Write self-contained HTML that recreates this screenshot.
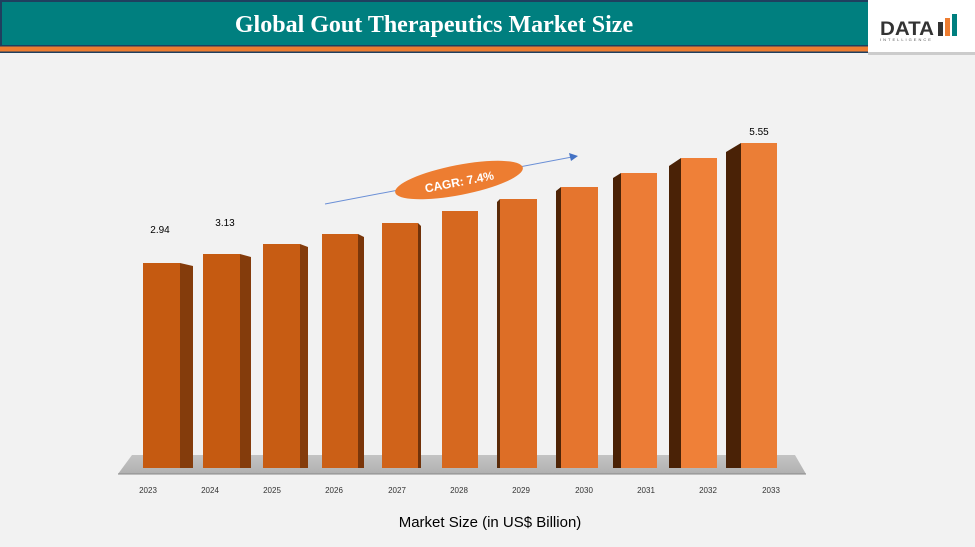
<!DOCTYPE html>
<html><head><meta charset="utf-8"><style>
body{margin:0;width:975px;height:547px;background:#f2f2f2;overflow:hidden;font-family:"Liberation Sans",sans-serif}
</style></head><body>
<svg width="975" height="547" xmlns="http://www.w3.org/2000/svg" style="position:absolute;left:0;top:0">
<defs>
<linearGradient id="fl" x1="0" y1="0" x2="0" y2="1"><stop offset="0" stop-color="#c4c4c4"/><stop offset="1" stop-color="#b0b0b0"/></linearGradient>
</defs>
<rect width="975" height="547" fill="#f2f2f2"/>
<rect x="0" y="0" width="870" height="45" fill="#007f7f"/>
<rect x="0" y="0" width="870" height="2" fill="#1f3f5f"/>
<rect x="0" y="0" width="2" height="53" fill="#1f3f5f"/>
<rect x="0" y="45" width="870" height="1.5" fill="#1f3f5f"/>
<rect x="0" y="46.5" width="870" height="5" fill="#ed7d31"/>
<rect x="0" y="51.5" width="870" height="1.5" fill="#1f3f5f"/>
<text x="434" y="32" text-anchor="middle" font-family="Liberation Serif,serif" font-weight="bold" font-size="24" fill="#fff">Global Gout Therapeutics Market Size</text>
<rect x="868" y="0" width="107" height="52" fill="#fff"/>
<rect x="868" y="52" width="107" height="3" fill="#ccc"/>
<text x="880" y="35" font-family="Liberation Sans,sans-serif" font-weight="bold" font-size="19" fill="#333" textLength="54" lengthAdjust="spacingAndGlyphs">DATA</text>
<rect x="938" y="22" width="5" height="14" fill="#333"/><rect x="945" y="18" width="5" height="18" fill="#ed7d31"/><rect x="952" y="14" width="5" height="22" fill="#007f7f"/>
<text x="880" y="41" font-size="4" fill="#555" letter-spacing="2">INTELLIGENCE</text>
<polygon points="132,455 795,455 806,474 118,474" fill="url(#fl)"/>
<line x1="118" y1="474" x2="806" y2="474" stroke="#888" stroke-width="1"/>
<line x1="325" y1="204" x2="572" y2="157" stroke="#6a8fd6" stroke-width="1"/>
<polygon points="578,156 569,153 571,161" fill="#4472c4"/>
<ellipse cx="459" cy="180" rx="65" ry="15" fill="#ed7d31" transform="rotate(-11 459 180)"/>
<text x="459" y="186" text-anchor="middle" transform="rotate(-11 459 180)" font-size="12" font-weight="bold" fill="#fff">CAGR: 7.4%</text>
<g font-size="10" fill="#000" text-anchor="middle">
<text x="160" y="233">2.94</text><text x="225" y="226">3.13</text><text x="759" y="135">5.55</text>
</g>
<g font-size="8" fill="#333" text-anchor="middle">
<text x="148" y="493">2023</text><text x="210" y="493">2024</text><text x="272" y="493">2025</text><text x="334" y="493">2026</text><text x="397" y="493">2027</text><text x="459" y="493">2028</text><text x="521" y="493">2029</text><text x="584" y="493">2030</text><text x="646" y="493">2031</text><text x="708" y="493">2032</text><text x="771" y="493">2033</text>
</g>
<text x="490" y="527" text-anchor="middle" font-size="15" fill="#000">Market Size (in US$ Billion)</text>
<g>
<polygon points="180,263 193,266 193,468 180,468" fill="#843c0c"/><rect x="143" y="263" width="37" height="205" fill="#c55a11"/>
<polygon points="240,254 251,257 251,468 240,468" fill="#843c0c"/><rect x="203" y="254" width="37" height="214" fill="#c55a11"/>
<polygon points="300,244 308,247 308,468 300,468" fill="#843c0c"/><rect x="263" y="244" width="37" height="224" fill="#c75c13"/>
<polygon points="358,234 364,237 364,468 358,468" fill="#7a360a"/><rect x="322" y="234" width="36" height="234" fill="#cb5f16"/>
<polygon points="418,223 421,226 421,468 418,468" fill="#70320a"/><rect x="382" y="223" width="36" height="245" fill="#d0631a"/>
<rect x="442" y="211" width="36" height="257" fill="#d6681f"/>
<polygon points="500,199 497,202 497,468 500,468" fill="#5a2a08"/><rect x="500" y="199" width="37" height="269" fill="#dd6e26"/>
<polygon points="561,187 556,191 556,468 561,468" fill="#4f2406"/><rect x="561" y="187" width="37" height="281" fill="#e5752e"/>
<polygon points="621,173 613,178 613,468 621,468" fill="#4a2206"/><rect x="621" y="173" width="36" height="295" fill="#ec7c36"/>
<polygon points="681,158 669,166 669,468 681,468" fill="#4a2206"/><rect x="681" y="158" width="36" height="310" fill="#ef8038"/>
<polygon points="741,143 726,152 726,468 741,468" fill="#4a2206"/><rect x="741" y="143" width="36" height="325" fill="#eb7e36"/>
</g>
</svg>
</body></html>
